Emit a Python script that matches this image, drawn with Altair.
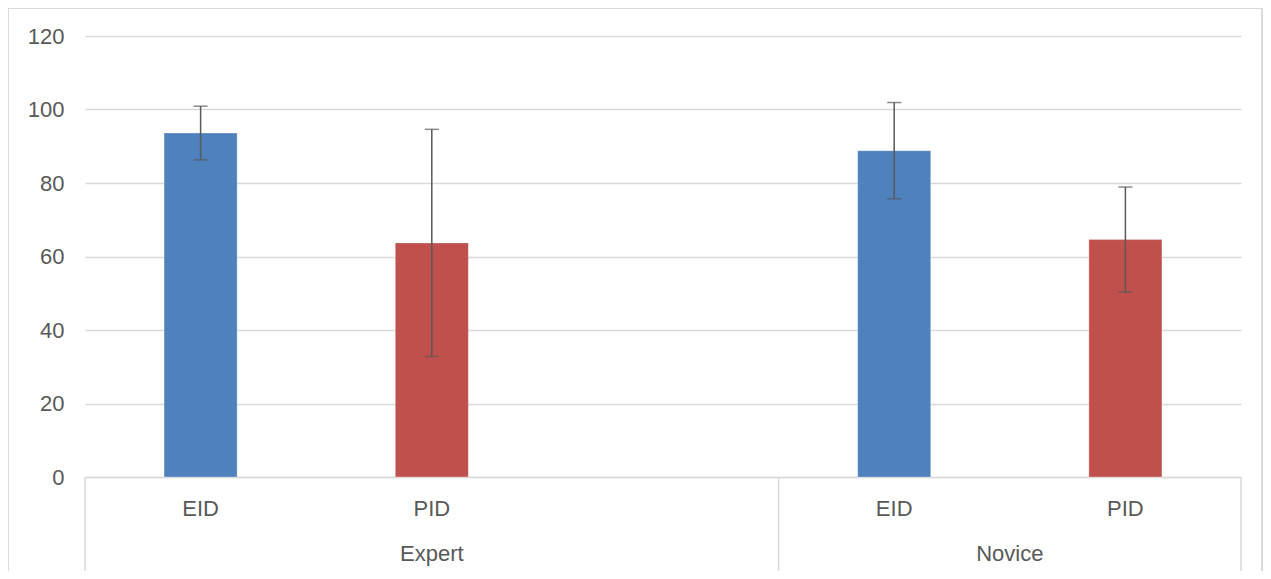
import altair as alt
import pandas as pd

# ---- data ----
groups = ["Expert", "Expert", "Novice", "Novice"]
conditions = ["EID", "PID", "EID", "PID"]
means = [93.6, 63.7, 88.8, 64.6]
errors = [7.3, 30.9, 13.1, 14.3]

# category slots on the axis (Expert has an extra empty slot, as in the original)
slot_groups = ["Expert", "Expert", "Expert", "Novice", "Novice"]
slot_labels = ["EID", "PID", "", "EID", "PID"]
y_ticks = [0, 20, 40, 60, 80, 100, 120]

W, H = 1156, 441
TEXT = "#595959"
GRID = "#d9d9d9"
FONT = "Liberation Sans"
FS = 22

slot_keys = [f"{g}|{c}" for g, c in zip(slot_groups, slot_labels)]

df = pd.DataFrame({"group": groups, "cond": conditions, "mean": means, "err": errors})
df["key"] = df["group"] + "|" + df["cond"]
df["lo"] = df["mean"] - df["err"]
df["hi"] = df["mean"] + df["err"]

# group spans along the category axis (in slot units)
grp_rows = []
start = 0
for g in dict.fromkeys(slot_groups):
    n = slot_groups.count(g)
    grp_rows.append({"group": g, "start": start, "end": start + n})
    start += n
grp_df = pd.DataFrame(grp_rows)
bounds_df = pd.DataFrame({"b": sorted(set(grp_df["start"]).union(grp_df["end"]))})
n_slots = len(slot_keys)

xband = alt.X(
    "key:N",
    scale=alt.Scale(domain=slot_keys, paddingInner=0.684, paddingOuter=0.342),
    axis=alt.Axis(
        title=None,
        labelExpr="split(datum.value, '|')[1]",
        labelAngle=0,
        ticks=False,
        grid=False,
        domainColor=GRID,
        domainWidth=1.5,
        labelColor=TEXT,
        labelFont=FONT,
        labelFontSize=FS,
        labelBaseline="middle",
        labelPadding=31,
    ),
)
yq = alt.Y(
    "mean:Q",
    scale=alt.Scale(domain=[0, 120], nice=False),
    axis=alt.Axis(
        title=None,
        values=y_ticks,
        ticks=False,
        domain=False,
        gridColor=GRID,
        gridWidth=1.3,
        labelColor=TEXT,
        labelFont=FONT,
        labelFontSize=FS,
        labelPadding=21,
    ),
)

base = alt.Chart(df)
bars = base.mark_bar(stroke="white", strokeWidth=0.6, strokeOpacity=0.5).encode(
    x=xband,
    y=yq,
    color=alt.Color(
        "cond:N",
        scale=alt.Scale(domain=["EID", "PID"], range=["#4F81BD", "#C0504D"]),
        legend=None,
    ),
)
err_rule = base.mark_rule(color=TEXT, strokeWidth=1.5).encode(
    x=alt.X("key:N"), y="lo:Q", y2="hi:Q"
)
cap_lo = base.mark_tick(color=TEXT, orient="horizontal", size=14, thickness=1.5).encode(
    x=alt.X("key:N"), y="lo:Q"
)
cap_hi = base.mark_tick(color=TEXT, orient="horizontal", size=14, thickness=1.5).encode(
    x=alt.X("key:N"), y="hi:Q"
)
main = alt.layer(bars, err_rule, cap_lo, cap_hi)

xq = alt.Scale(domain=[0, n_slots], nice=False, zero=False)
dividers = alt.Chart(bounds_df).mark_rule(color=GRID, strokeWidth=1.5).encode(
    x=alt.X("b:Q", scale=xq, axis=None),
    y=alt.value(H),
    y2=alt.value(H + 94),
)
group_text = (
    alt.Chart(grp_df)
    .transform_calculate(mid="(datum.start + datum.end) / 2")
    .mark_text(font=FONT, fontSize=FS, color=TEXT, baseline="middle")
    .encode(x=alt.X("mid:Q", scale=xq, axis=None), y=alt.value(H + 77), text="group:N")
)
border = alt.Chart(grp_df.head(1)).mark_rect(
    fill=None, filled=False, stroke=GRID, strokeWidth=1.8
).encode(
    x=alt.value(-77), x2=alt.value(W + 21), y=alt.value(-28), y2=alt.value(H + 200)
)
outer = alt.layer(border, dividers, group_text)

chart = (
    alt.layer(main, outer)
    .resolve_scale(x="independent")
    .properties(
        width=W,
        height=H,
        autosize=alt.AutoSizeParams(type="none"),
        padding={"left": 77, "top": 28, "right": 22, "bottom": 94},
        background="white",
    )
    .configure_view(stroke=None)
)

chart.save("out.html", embed_options={"renderer": "svg", "actions": False})
